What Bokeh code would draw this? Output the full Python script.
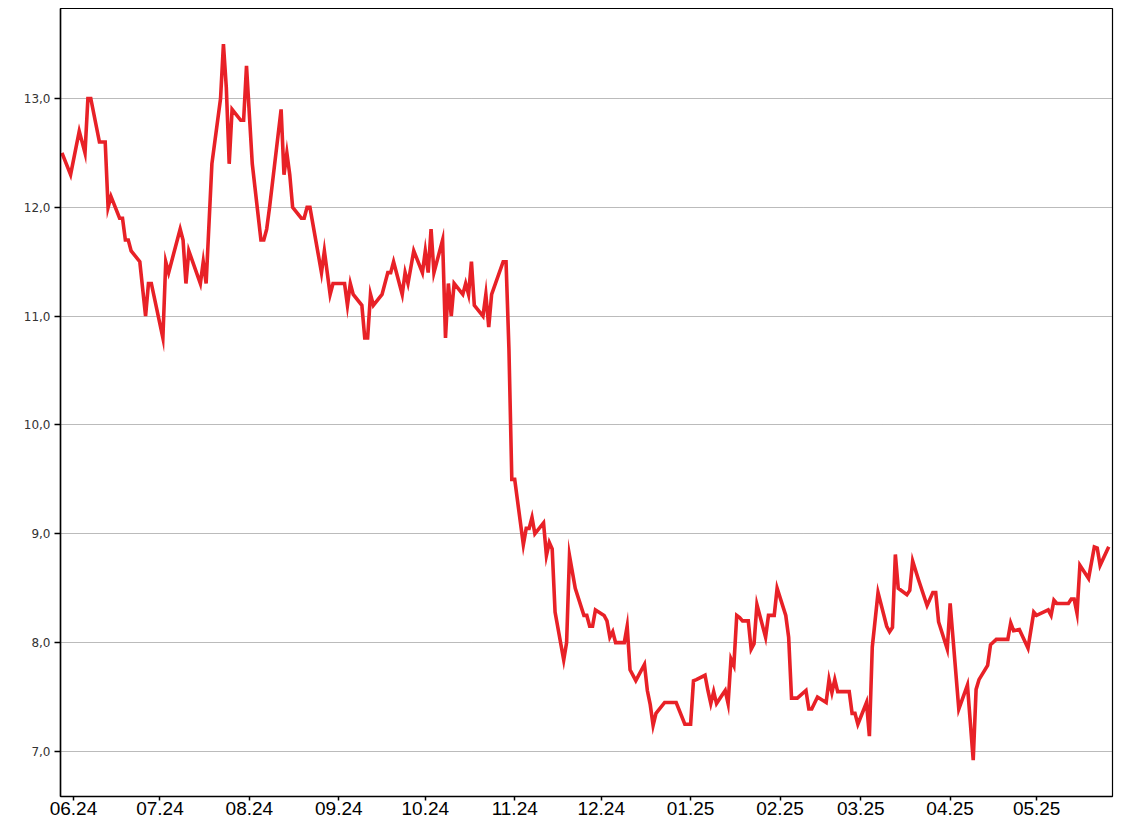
import pandas as pd
from bokeh.plotting import figure
from bokeh.models import Range1d, FixedTicker, DatetimeTickFormatter, ColumnDataSource
from bokeh.embed import file_html
from bokeh.resources import INLINE

# ---- data -------------------------------------------------------------
start_date = "2024-06-01"
day_offsets = [
    -4, -1, 2, 4, 5, 6, 9, 11, 12, 13, 16, 17, 18, 19, 20, 23, 25, 26, 27, 31,
    32, 33, 37, 38, 39, 40, 44, 45, 46, 48, 51, 52, 53, 54, 55, 58, 59, 60, 62, 65,
    66, 67, 68, 72, 73, 74, 75, 76, 79, 80, 81, 82, 86, 87, 89, 90, 94, 95, 96, 97,
    100, 101, 102, 103, 104, 107, 109, 110, 111, 114, 115, 116, 118, 121, 122, 123, 124, 125, 128, 129,
    130, 131, 132, 135, 136, 137, 138, 139, 142, 143, 144, 145, 149, 150, 151, 152, 153, 156, 157, 158,
    159, 160, 163, 164, 165, 166, 167, 170, 171, 172, 174, 177, 178, 179, 180, 181, 184, 185, 186, 187,
    188, 191, 192, 193, 195, 198, 199, 200, 201, 202, 205, 209, 212, 214, 215, 216, 219, 220, 221, 222,
    223, 225, 226, 227, 228, 229, 230, 231, 232, 234, 235, 236, 237, 240, 241, 243, 244, 247, 248, 249,
    251, 254, 255, 256, 258, 261, 262, 263, 264, 265, 269, 270, 271, 272, 275, 276, 277, 279, 282, 283,
    284, 285, 286, 289, 290, 291, 293, 296, 298, 299, 300, 303, 304, 307, 310, 312, 313, 314, 317, 318,
    320, 324, 325, 326, 328, 331, 333, 334, 338, 339, 340, 341, 345, 346, 347, 348, 349, 352, 354, 355,
    356, 359,
]
prices = [
    12.50, 12.30, 12.70, 12.50, 13.00, 13.00, 12.60, 12.60, 12.00, 12.10, 11.90, 11.90, 11.70, 11.70, 11.60, 11.50, 11.00, 11.30, 11.30, 10.80,
    11.50, 11.40, 11.80, 11.70, 11.30, 11.60, 11.30, 11.50, 11.30, 12.40, 13.00, 13.50, 13.10, 12.40, 12.90, 12.80, 12.80, 13.30, 12.40, 11.70,
    11.70, 11.80, 12.00, 12.90, 12.30, 12.50, 12.30, 12.00, 11.90, 11.90, 12.00, 12.00, 11.40, 11.60, 11.20, 11.30, 11.30, 11.10, 11.30, 11.20,
    11.10, 10.80, 10.80, 11.20, 11.10, 11.20, 11.40, 11.40, 11.50, 11.20, 11.40, 11.30, 11.60, 11.40, 11.60, 11.40, 11.80, 11.40, 11.70, 10.80,
    11.30, 11.00, 11.30, 11.20, 11.30, 11.20, 11.50, 11.10, 11.00, 11.20, 10.90, 11.20, 11.50, 11.50, 10.70, 9.50, 9.50, 8.90, 9.05, 9.05,
    9.15, 9.00, 9.10, 8.80, 8.92, 8.86, 8.28, 7.84, 8.00, 8.80, 8.50, 8.25, 8.25, 8.15, 8.15, 8.30, 8.25, 8.20, 8.05, 8.10,
    8.00, 8.00, 8.15, 7.75, 7.65, 7.80, 7.56, 7.43, 7.24, 7.35, 7.45, 7.45, 7.25, 7.25, 7.65, 7.66, 7.70, 7.56, 7.44, 7.55,
    7.44, 7.52, 7.56, 7.44, 7.85, 7.79, 8.25, 8.23, 8.20, 8.20, 7.94, 7.99, 8.35, 8.05, 8.25, 8.25, 8.50, 8.25, 8.05, 7.49,
    7.49, 7.56, 7.39, 7.39, 7.50, 7.45, 7.66, 7.54, 7.66, 7.55, 7.55, 7.35, 7.35, 7.25, 7.45, 7.14, 7.96, 8.46, 8.15, 8.10,
    8.14, 8.81, 8.50, 8.44, 8.48, 8.75, 8.58, 8.34, 8.46, 8.46, 8.19, 7.94, 8.36, 7.39, 7.61, 6.92, 7.57, 7.66, 7.79, 7.98,
    8.03, 8.03, 8.18, 8.11, 8.12, 7.95, 8.28, 8.25, 8.30, 8.25, 8.39, 8.36, 8.36, 8.40, 8.40, 8.27, 8.71, 8.59, 8.88, 8.87,
    8.71, 8.88,
]
month_ticks = ["2024-06-01", "2024-07-01", "2024-08-01", "2024-09-01", "2024-10-01", "2024-11-01",
               "2024-12-01", "2025-01-01", "2025-02-01", "2025-03-01", "2025-04-01", "2025-05-01"]
month_labels = ["06.24", "07.24", "08.24", "09.24", "10.24", "11.24",
                "12.24", "01.25", "02.25", "03.25", "04.25", "05.25"]
y_ticks = [7, 8, 9, 10, 11, 12, 13]
y_labels = ["7,0", "8,0", "9,0", "10,0", "11,0", "12,0", "13,0"]

# ---- build ------------------------------------------------------------
t0 = pd.Timestamp(start_date)
dates = [t0 + pd.Timedelta(days=d) for d in day_offsets]
src = ColumnDataSource(data=dict(date=dates, price=prices))

x_start = t0 - pd.Timedelta(days=4.5)
x_end = t0 + pd.Timedelta(days=360.3)

p = figure(width=1120, height=828, x_axis_type="datetime",
           x_range=Range1d(x_start, x_end), y_range=Range1d(6.586, 13.827),
           output_backend="svg", toolbar_location=None,
           min_border_left=60, min_border_right=8, min_border_top=8, min_border_bottom=32)

p.line("date", "price", source=src, line_color="#e82127", line_width=3.6, line_join="miter")

tick_ms = [pd.Timestamp(d).value / 1e6 for d in month_ticks]
p.xaxis.ticker = FixedTicker(ticks=tick_ms)
fmt = "%m.%y"
p.xaxis.formatter = DatetimeTickFormatter(milliseconds=fmt, seconds=fmt, minsec=fmt, minutes=fmt,
                                          hourmin=fmt, hours=fmt, days=fmt, months=fmt, years=fmt)
p.yaxis.ticker = FixedTicker(ticks=y_ticks)
p.yaxis.major_label_overrides = {t: l for t, l in zip(y_ticks, y_labels)}

for ax in (p.xaxis, p.yaxis):
    ax.axis_line_color = "black"
    ax.axis_line_width = 1.5
    ax.major_tick_line_color = "black"
    ax.major_tick_line_width = 1.5
    ax.major_tick_in = 0
    ax.major_tick_out = 4
    ax.minor_tick_line_color = None
    ax.major_label_text_font = "Liberation Sans"
    ax.major_label_text_color = "#000000"

p.xaxis.major_label_text_font_size = "19px"
p.xaxis.major_label_standoff = 1
p.yaxis.major_tick_out = 6
p.yaxis.major_label_text_font = "DejaVu Sans"
p.yaxis.major_label_text_font_size = "12px"
p.yaxis.major_label_text_color = "#333333"
p.yaxis.major_label_standoff = 4

p.xgrid.visible = False
p.ygrid.grid_line_color = "#777777"
p.ygrid.grid_line_width = 1
p.ygrid.grid_line_dash = "1 1"

p.outline_line_color = "black"
p.outline_line_width = 1.2
p.background_fill_color = "white"
p.border_fill_color = "white"

open("out.html", "w").write(file_html(p, INLINE))
